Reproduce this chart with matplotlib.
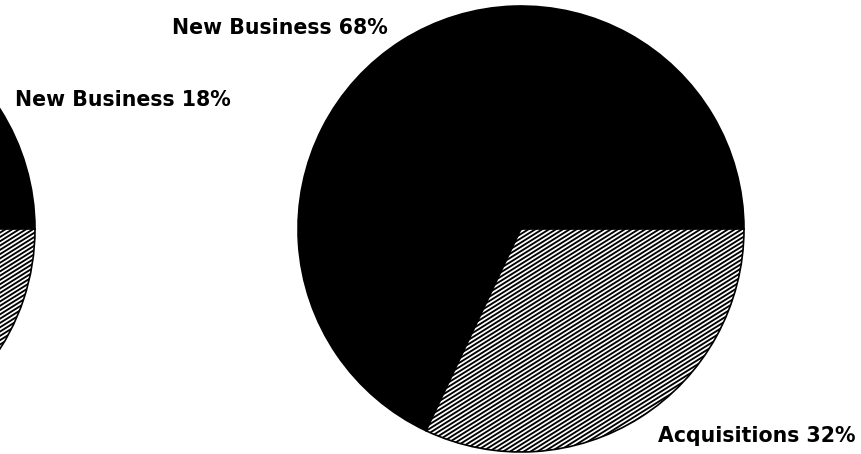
import numpy as np
import matplotlib.pyplot as plt
from matplotlib.collections import LineCollection

# two pies, second one fully visible, first one cut off at left edge
labels = ['New Business', 'Acquisitions']
left_vals = [18, 82]
right_vals = [68, 32]
label_texts = ['New Business 18%', 'New Business 68%', 'Acquisitions 32%']

W, H = 862, 454
fig = plt.figure(figsize=(W / 100, H / 100), dpi=100)
ax = fig.add_axes([0, 0, 1, 1])

# diagonal hatch lines (shallower than matplotlib's 45 deg hatch)
slope = np.tan(np.radians(32))
offs = np.arange(-600, 900, 4.3)
xs = np.array([-450, 900])
segs = [np.column_stack([xs, xs * slope + c]) for c in offs]

R = 223
for vals, cx in [(left_vals, -188), (right_vals, 521)]:
    wedges, _ = ax.pie(vals, center=(cx, H - 229), radius=R, startangle=0,
                       counterclock=True, frame=True,
                       colors=['black', 'white'],
                       wedgeprops=dict(edgecolor='black', linewidth=1.2))
    lc = LineCollection(segs, colors='black', linewidths=1.35)
    ax.add_collection(lc)
    lc.set_clip_path(wedges[1])

txt = dict(fontsize=14.8, fontweight='bold', family='DejaVu Sans', va='baseline', ha='left')
ax.text(15, H - 106, label_texts[0], **txt)
ax.text(172, H - 34, label_texts[1], **txt)
ax.text(658, H - 442, label_texts[2], **txt)

ax.set_xlim(0, W)
ax.set_ylim(0, H)
ax.set_aspect('equal')
ax.axis('off')
fig.savefig('out.png', dpi=100)
